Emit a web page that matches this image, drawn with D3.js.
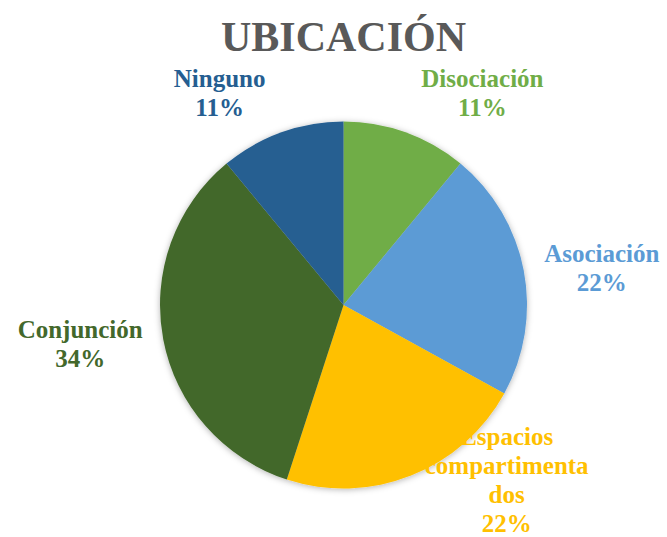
<!DOCTYPE html>
<html>
<head>
<meta charset="utf-8">
<script src="https://cdn.jsdelivr.net/npm/d3@7"></script>
<style>
  body { margin: 0; background: #fff; }
  svg { display: block; }
</style>
</head>
<body>
<svg id="chart" width="667" height="537"></svg>
<script>
const title = "UBICACIÓN";
const categories = ["Disociación", "Asociación", "Espacios compartimentados", "Conjunción", "Ninguno"];
const values = [11, 22, 22, 34, 11];
const colors = ["#70AD47", "#5B9BD5", "#FFC000", "#43682B", "#255E91"];
// label text as the chart breaks it into lines
const labelLines = [
  ["Disociación"],
  ["Asociación"],
  ["Espacios", "compartimenta", "dos"],
  ["Conjunción"],
  ["Ninguno"]
];

const width = 667, height = 537;
const cx = 343.5, cy = 305, radius = 183.5;
const font = "'Liberation Serif', 'Times New Roman', serif";

const svg = d3.select("#chart");

// soft shadow under the pie
const defs = svg.append("defs");
const shadow = defs.append("filter").attr("id", "shadow")
  .attr("x", "-20%").attr("y", "-20%").attr("width", "140%").attr("height", "140%");
shadow.append("feDropShadow")
  .attr("dx", 0).attr("dy", 1).attr("stdDeviation", 3)
  .attr("flood-color", "#000").attr("flood-opacity", 0.3);

svg.append("text")
  .attr("x", cx).attr("y", 51)
  .attr("text-anchor", "middle")
  .attr("font-family", font).attr("font-weight", "bold")
  .attr("font-size", 42).attr("fill", "#595959")
  .text(title);

const pie = d3.pie().sort(null).value(d => d);
const arcs = pie(values);
const arc = d3.arc().innerRadius(0).outerRadius(radius);

const g = svg.append("g").attr("transform", `translate(${cx},${cy})`);

g.append("g").attr("filter", "url(#shadow)")
  .selectAll("path")
  .data(arcs)
  .enter()
  .append("path")
  .attr("d", arc)
  .attr("fill", (d, i) => colors[i]);

// labels sit outside the pie; Excel nudges some of them
const labelArc = d3.arc().innerRadius(radius * 1.35).outerRadius(radius * 1.35);
const nudge = [[55, 21], [15, 9], [72, -56], [-20, -8], [-40, 21]];
const lineH = 29;

arcs.forEach((a, i) => {
  const c = labelArc.centroid(a);
  const lines = labelLines[i].concat([d3.format(".0%")(values[i] / d3.sum(values))]);
  const x = c[0] + nudge[i][0];
  const y = c[1] + nudge[i][1] - (lines.length - 1) * lineH / 2 + 9;
  const t = g.append("text")
    .attr("text-anchor", "middle")
    .attr("font-family", font).attr("font-weight", "bold")
    .attr("font-size", 25).attr("fill", colors[i]);
  lines.forEach((s, j) => {
    t.append("tspan").attr("x", x).attr("y", y + j * lineH).text(s);
  });
});
</script>
</body>
</html>
